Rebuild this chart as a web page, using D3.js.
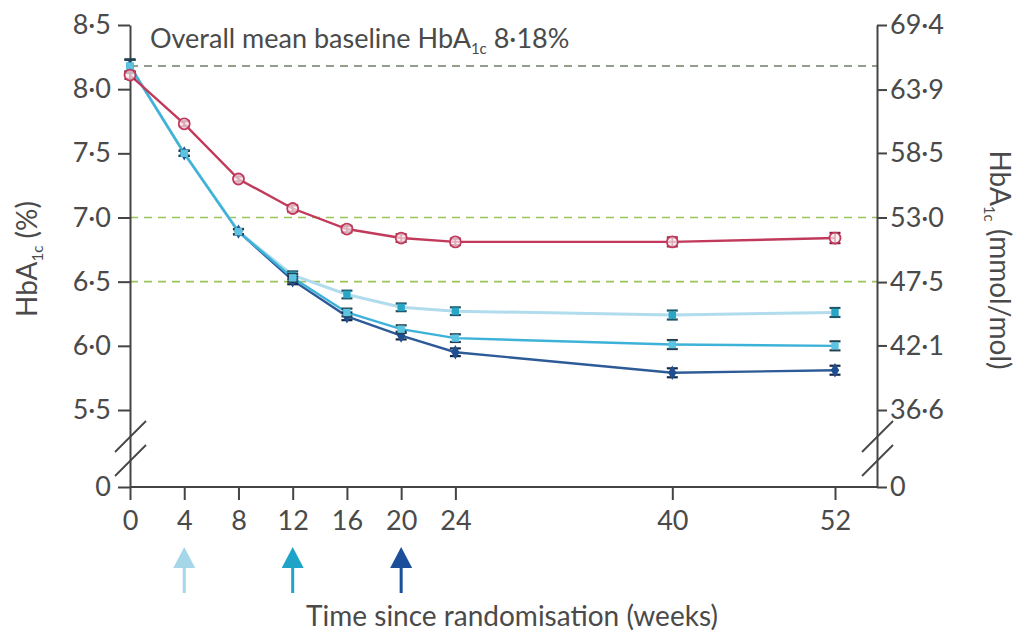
<!DOCTYPE html>
<html>
<head>
<meta charset="utf-8">
<script src="https://cdn.jsdelivr.net/npm/d3@7"></script>
<style>
  html, body { margin: 0; padding: 0; background: #fff; }
  svg { display: block; }
  text { font-family: Lato, "Open Sans", sans-serif; fill: #4a4a4a; }
</style>
</head>
<body>
<svg id="chart" width="1017" height="633"></svg>
<script>
// Time points (weeks since randomisation)
const weeks = [0, 4, 8, 12, 16, 20, 24, 40, 52];

// Mean HbA1c (%) per group
const comparator  = [8.11, 7.73, 7.30, 7.07, 6.91, 6.84, 6.81, 6.81, 6.84];
const switchWk4   = [8.18, 7.50, 6.89, 6.55, 6.40, 6.30, 6.27, 6.24, 6.26];
const switchWk12  = [8.18, 7.50, 6.89, 6.53, 6.26, 6.13, 6.06, 6.01, 6.00];
const switchWk20  = [8.18, 7.50, 6.89, 6.51, 6.23, 6.08, 5.95, 5.79, 5.81];

// Standard errors (%)
const seComparator = [0.03, 0.02, 0.02, 0.025, 0.025, 0.03, 0.025, 0.035, 0.04];
const seWk4        = [0.05, 0.02, 0.02, 0.03, 0.03, 0.03, 0.03, 0.035, 0.035];
const seWk12       = [0.05, 0.02, 0.02, 0.03, 0.03, 0.03, 0.03, 0.035, 0.035];
const seWk20       = [0.05, 0.02, 0.02, 0.03, 0.03, 0.03, 0.03, 0.035, 0.035];

// Axis ticks
const xTicks = [0, 4, 8, 12, 16, 20, 24, 40, 52];
const pctTicks = [0, 5.5, 6.0, 6.5, 7.0, 7.5, 8.0, 8.5];
const mmolTicks = [0, 36.6, 42.1, 47.5, 53.0, 58.5, 63.9, 69.4];

// Reference lines
const baselineMean = 8.18;
const targetLines = [7.0, 6.5];

// Weeks at which each switch group changed treatment
const switchWeeks = [4, 12, 20];
const arrowColours = ["#a5d7e8", "#1ea4c9", "#1b4f9c"];

const svg = d3.select("#chart");

const x = d3.scaleLinear().domain([0, 52]).range([130, 835]);
// broken axis: 0 sits below a compressed gap, 5.5–8.5 is the readable range
const y = d3.scaleLinear().domain([0, 5.5, 8.5]).range([487, 410, 25]);
const yR = d3.scaleLinear().domain([0, 36.6, 69.4]).range([487, 410, 25]);
const xRightAxis = 877;

const fmt = v => (v === 0 ? "0" : d3.format(".1f")(v).replace(".", "\u00B7"));
const axisColour = "#444";

// reference lines
svg.append("line")
  .attr("x1", x(0)).attr("x2", xRightAxis)
  .attr("y1", y(baselineMean)).attr("y2", y(baselineMean))
  .attr("stroke", "#6f7d6a").attr("stroke-width", 1.6)
  .attr("stroke-dasharray", "8,6");

svg.selectAll("line.target").data(targetLines).enter().append("line")
  .attr("class", "target")
  .attr("x1", x(0)).attr("x2", xRightAxis)
  .attr("y1", d => y(d)).attr("y2", d => y(d))
  .attr("stroke", "#9cc25a").attr("stroke-width", 1.6)
  .attr("stroke-dasharray", "8,6");

// baseline label
const lbl = svg.append("text").attr("x", 150).attr("y", 48)
  .style("font-size", "27px");
lbl.append("tspan").text("Overall mean baseline HbA");
lbl.append("tspan").text("1c").style("font-size", "15px").attr("dy", 6);
lbl.append("tspan").text(" 8\u00B718%").attr("dy", -6);

// axes
function styleAxis(g) {
  g.selectAll("path.domain").attr("stroke", axisColour).attr("stroke-width", 2);
  g.selectAll(".tick line").attr("stroke", axisColour).attr("stroke-width", 2);
  g.selectAll(".tick text").style("font-size", "27px").style("font-family", "Lato, sans-serif").attr("fill", "#4a4a4a");
}

const gL = svg.append("g").attr("transform", `translate(${x(0)},0)`)
  .call(d3.axisLeft(y).tickValues(pctTicks).tickFormat(fmt).tickSize(12).tickSizeOuter(0).tickPadding(7));
styleAxis(gL);

const gR = svg.append("g").attr("transform", `translate(${xRightAxis},0)`)
  .call(d3.axisRight(yR).tickValues(mmolTicks).tickFormat(fmt).tickSize(10).tickSizeOuter(0).tickPadding(3));
styleAxis(gR);

const gX = svg.append("g").attr("transform", `translate(0,${y(0)})`)
  .call(d3.axisBottom(x).tickValues(xTicks).tickFormat(d3.format("d")).tickSize(13).tickSizeOuter(0).tickPadding(11));
styleAxis(gX);
gX.select("path.domain").remove();
svg.append("line")
  .attr("x1", x(0)).attr("x2", xRightAxis)
  .attr("y1", y(0)).attr("y2", y(0))
  .attr("stroke", axisColour).attr("stroke-width", 2);

// axis break marks
function breakMarks(cx) {
  [0, 24].forEach(off => {
    svg.append("line")
      .attr("x1", cx - 15).attr("y1", 452 + off)
      .attr("x2", cx + 16).attr("y2", 421 + off)
      .attr("stroke", axisColour).attr("stroke-width", 1.8);
  });
}
breakMarks(x(0));
breakMarks(xRightAxis);

// axis titles
const tL = svg.append("text")
  .attr("transform", `translate(37,259) rotate(-90)`)
  .attr("text-anchor", "middle").style("font-size", "28px");
tL.append("tspan").text("HbA");
tL.append("tspan").text("1c").style("font-size", "15px").attr("dy", 6);
tL.append("tspan").text(" (%)").attr("dy", -6);

const tR = svg.append("text")
  .attr("transform", `translate(990,260) rotate(90)`)
  .attr("text-anchor", "middle").style("font-size", "28px");
tR.append("tspan").text("HbA");
tR.append("tspan").text("1c").style("font-size", "15px").attr("dy", 6);
tR.append("tspan").text(" (mmol/mol)").attr("dy", -6);

svg.append("text").attr("x", 512).attr("y", 626)
  .attr("text-anchor", "middle").style("font-size", "28px")
  .text("Time since randomisation (weeks)");

// switch arrows
switchWeeks.forEach((w, i) => {
  const cx = x(w);
  const g = svg.append("g").attr("fill", arrowColours[i]);
  g.append("rect").attr("x", cx - 1.5).attr("y", 562).attr("width", 3).attr("height", 31);
  g.append("path").attr("d", `M${cx},547 L${cx + 11},568 L${cx - 11},568 Z`);
});

// series
const series = [
  { name: "wk20", values: switchWk20, se: seWk20, line: "#2d5b97", fill: "#1f4e92", bar: "#1a2a45", shape: "diamond" },
  { name: "wk4",  values: switchWk4,  se: seWk4,  line: "#b0dced", fill: "#28a6c6", bar: "#1f5565", shape: "square" },
  { name: "wk12", values: switchWk12, se: seWk12, line: "#3db2d9", fill: "#5cc3e1", bar: "#243f4d", shape: "square" },
  { name: "comp", values: comparator, se: seComparator, line: "#c13a5c", fill: "#fbe8ed", bar: "#7d1f3a", shape: "circle" }
];

const line = d3.line().x(d => x(d.w)).y(d => y(d.v));

series.forEach(s => {
  const pts = weeks.map((w, i) => ({ w, v: s.values[i], se: s.se[i] }));
  svg.append("path").datum(pts)
    .attr("d", line).attr("fill", "none")
    .attr("stroke", s.line).attr("stroke-width", s.name === "wk4" ? 3 : 2.4);
});

series.forEach(s => {
  const pts = weeks.map((w, i) => ({ w, v: s.values[i], se: s.se[i] }));
  const g = svg.append("g");
  // error bars
  const eb = g.selectAll("g.eb").data(pts).enter().append("g");
  eb.append("line")
    .attr("x1", d => x(d.w)).attr("x2", d => x(d.w))
    .attr("y1", d => y(d.v + d.se)).attr("y2", d => y(d.v - d.se))
    .attr("stroke", s.bar).attr("stroke-width", 1.6);
  [1, -1].forEach(sign => {
    eb.append("line")
      .attr("x1", d => x(d.w) - 5.5).attr("x2", d => x(d.w) + 5.5)
      .attr("y1", d => y(d.v + sign * d.se)).attr("y2", d => y(d.v + sign * d.se))
      .attr("stroke", s.bar).attr("stroke-width", 2.2);
  });
  // markers
  if (s.shape === "circle") {
    g.selectAll("circle").data(pts).enter().append("circle")
      .attr("cx", d => x(d.w)).attr("cy", d => y(d.v)).attr("r", 5.5)
      .attr("fill", s.fill).attr("fill-opacity", 0.7)
      .attr("stroke", s.line).attr("stroke-width", 1.8);
  } else {
    const sym = d3.symbol().type(s.shape === "diamond" ? d3.symbolDiamond : d3.symbolSquare)
      .size(s.shape === "diamond" ? 60 : 55);
    g.selectAll("path.m").data(pts).enter().append("path")
      .attr("transform", d => `translate(${x(d.w)},${y(d.v)})`)
      .attr("d", sym).attr("fill", s.fill);
  }
});
</script>
</body>
</html>
